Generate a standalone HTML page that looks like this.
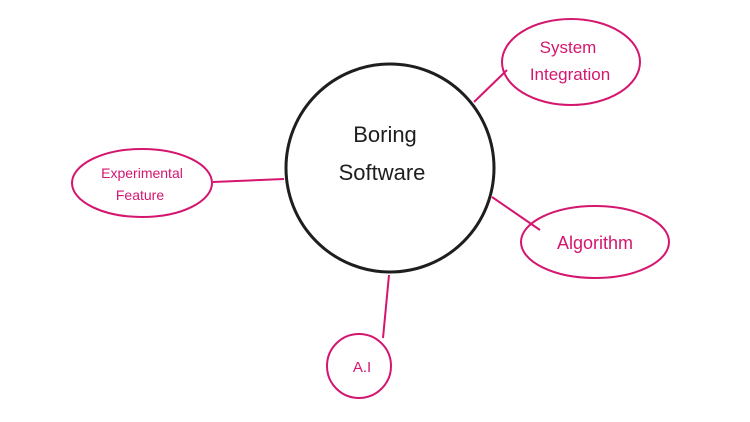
<!DOCTYPE html>
<html><head><meta charset="utf-8"><style>
html,body{margin:0;padding:0;background:#fff;width:750px;height:422px;overflow:hidden}
text{font-family:"Liberation Sans",sans-serif}
</style></head><body>
<svg width="750" height="422" viewBox="0 0 750 422">
<g stroke="#d4166f" stroke-width="2" fill="none">
<line x1="474" y1="102" x2="507" y2="70"/>
<line x1="213" y1="182" x2="284" y2="179"/>
<line x1="492" y1="197" x2="540" y2="230"/>
<line x1="389" y1="275" x2="383" y2="338"/>
<ellipse cx="571" cy="62" rx="69" ry="43"/>
<ellipse cx="142" cy="183" rx="70" ry="34"/>
<ellipse cx="595" cy="242" rx="74" ry="36"/>
<circle cx="359" cy="366" r="32"/>
</g>
<circle cx="390" cy="168" r="104" fill="none" stroke="#1e1e1e" stroke-width="3"/>
<g fill="#d4166f" font-size="17" text-anchor="middle">
<text x="568" y="53">System</text>
<text x="570" y="80">Integration</text>
<text x="142" y="178" font-size="14">Experimental</text>
<text x="140" y="200" font-size="14">Feature</text>
<text x="595" y="249" font-size="18">Algorithm</text>
<text x="362" y="372" font-size="15">A.I</text>
</g>
<g fill="#1e1e1e" font-size="22" text-anchor="middle">
<text x="385" y="142">Boring</text>
<text x="382" y="180">Software</text>
</g>
</svg>
</body></html>
